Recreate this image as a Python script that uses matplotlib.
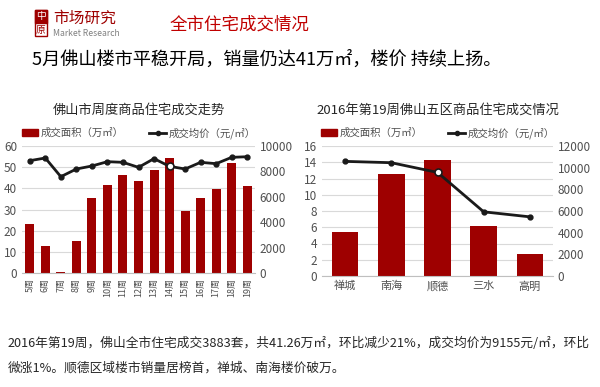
import matplotlib
matplotlib.use("Agg")
import matplotlib.pyplot as plt
from matplotlib.patches import Rectangle
from matplotlib.lines import Line2D

plt.rcParams['font.family'] = ['Noto Sans CJK SC', 'DejaVu Sans']

RED = "#9E0000"
GRAY_TXT = "#505050"

# weekly city data
weeks = ["5周", "6周", "7周", "8周", "9周", "10周", "11周", "12周", "13周", "14周",
         "15周", "16周", "17周", "18周", "19周"]
week_area = [23.3, 12.8, 0.3, 15.1, 35.4, 41.6, 46.3, 43.6, 48.7, 54.5,
             29.4, 35.4, 39.5, 52.1, 41.26]
week_price = [8845, 9055, 7585, 8189, 8425, 8766, 8714, 8320, 9003, 8399,
              8189, 8714, 8609, 9108, 9155]

# district data, week 19
districts = ["禅城", "南海", "顺德", "三水", "高明"]
dist_area = [5.39, 12.55, 14.23, 6.13, 2.76]
dist_price = [10581, 10458, 9563, 5923, 5460]

W, H = 600, 387
fig = plt.figure(figsize=(W / 100, H / 100), dpi=100)


def px(x, y):
    return x / W, 1 - y / H


def combo(ax, cats, area, price, ylim1, step1, ylim2, step2, hl, title, width):
    ax.set_axisbelow(True)
    x = range(len(cats))
    ax.bar(x, area, width=width, color=RED, zorder=2)
    ax.set_ylim(0, ylim1)
    ax.set_yticks(range(0, ylim1 + 1, step1))
    ax.yaxis.grid(True, color="#d9d9d9", lw=0.8)
    ax.set_xlim(-0.5, len(cats) - 0.5)
    for s in ["top", "right", "left"]:
        ax.spines[s].set_visible(False)
    ax.spines["bottom"].set_color("#bfbfbf")
    ax.tick_params(length=0, labelsize=8.5, colors=GRAY_TXT)
    ax.set_xticks(list(x))

    ax2 = ax.twinx()
    ax2.plot(list(x), price, color="#1a1a1a", lw=2, marker="o", ms=3.5, zorder=3)
    ax2.plot([hl], [price[hl]], ls="none", marker="o", ms=5, mfc="white",
             mec="#1a1a1a", mew=1.2, zorder=4)
    ax2.set_ylim(0, ylim2)
    ax2.set_yticks(range(0, ylim2 + 1, step2))
    for s in ax2.spines.values():
        s.set_visible(False)
    ax2.tick_params(length=0, labelsize=8.5, colors=GRAY_TXT)

    handles = [Rectangle((0, 0), 1, 1, color=RED),
               Line2D([], [], color="#1a1a1a", lw=2, marker="o", ms=3)]
    ax.legend(handles, ["成交面积（万㎡）", "成交均价（元/㎡）"], ncol=2,
              loc="lower center", bbox_to_anchor=(0.5, 1.0), frameon=False,
              fontsize=7.5, handlelength=1.6, handletextpad=0.2, columnspacing=2.5,
              labelcolor=GRAY_TXT, borderaxespad=0.3)
    ax.set_title(title, fontsize=9.5, color="#262626", pad=23)
    return ax2


# left chart
ax1 = fig.add_axes([22 / W, 1 - 273 / H, 233 / W, 127 / H])
combo(ax1, weeks, week_area, week_price, 60, 10, 10000, 2000, 9,
      "佛山市周度商品住宅成交走势", 0.58)
ax1.set_xticklabels(weeks, rotation=90, fontsize=6.5)

# right chart
ax3 = fig.add_axes([322 / W, 1 - 276 / H, 231 / W, 130 / H])
combo(ax3, districts, dist_area, dist_price, 16, 2, 12000, 2000, 2,
      "2016年第19周佛山五区商品住宅成交情况", 0.58)
ax3.set_xticklabels(districts, fontsize=8)

# header: logo, titles
fig.patches.append(Rectangle(px(35, 36), 12 / W, 26 / H, transform=fig.transFigure,
                             facecolor="white", edgecolor=RED, lw=1))
fig.patches.append(Rectangle(px(35, 23), 12 / W, 13 / H, transform=fig.transFigure,
                             facecolor=RED, edgecolor=RED, lw=1))
fig.text(*px(41, 16.5), "中", color="white", fontsize=7, ha="center", va="center")
fig.text(*px(41, 29.5), "原", color=RED, fontsize=7, ha="center", va="center")
fig.text(*px(53, 18), "市场研究", color=RED, fontsize=11.3, va="center")
fig.text(*px(53, 34), "Market Research", color="#808080", fontsize=6.2, va="center")
fig.text(*px(170, 25), "全市住宅成交情况", color="#C00000", fontsize=12.6, va="center")
fig.text(*px(32, 60), "5月佛山楼市平稳开局，销量仍达41万㎡，楼价 持续上扬。",
         color="black", fontsize=13.1, va="center")

# bottom summary
fig.text(*px(8, 343), "2016年第19周，佛山全市住宅成交3883套，共41.26万㎡，环比减少21%，"
         "成交均价为9155元/㎡，环比", color="#262626", fontsize=9.15, va="center")
fig.text(*px(8, 368), "微涨1%。顺德区域楼市销量居榜首，禅城、南海楼价破万。",
         color="#262626", fontsize=9.15, va="center")

fig.savefig("out.png", dpi=100)
